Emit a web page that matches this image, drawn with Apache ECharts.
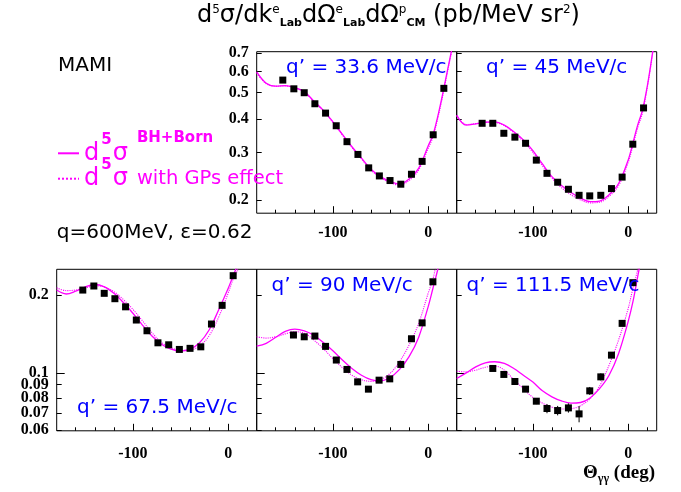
<!DOCTYPE html>
<html><head><meta charset="utf-8">
<script src="https://cdn.jsdelivr.net/npm/echarts@6/dist/echarts.min.js"></script>
<style>html,body{margin:0;padding:0;background:#fff}#c{width:681px;height:492px}</style>
</head><body><div id="c"></div>
<script>
// ---------- data ----------
const curveTheta = [-180,-170,-160,-150,-140,-130,-120,-110,-100,-90,-80,-70,-60,-50,-40,-30,-20,-10,0,5,10,15,20,25,30];

// q' = 33.6 MeV/c
const theta336 = [-152.6,-141,-130.1,-118.9,-107.7,-96.5,-85.2,-73.7,-62.4,-51.2,-40,-28.7,-17.5,-6.3,5.3,16.5];
const data336  = [0.557,0.517,0.500,0.455,0.420,0.377,0.329,0.295,0.263,0.2455,0.236,0.2287,0.249,0.278,0.349,0.519];
const bh336 = [0.597,0.542,0.529,0.531,0.522,0.505,0.465,0.43,0.39,0.35,0.315,0.286,0.26,0.244,0.234,0.229,0.239,0.262,0.317,0.348,0.407,0.49,0.598,0.73,0.9];
const gp336 = [0.59,0.54,0.528,0.53,0.521,0.503,0.463,0.428,0.388,0.348,0.313,0.284,0.258,0.242,0.232,0.227,0.236,0.258,0.31,0.342,0.40,0.48,0.59,0.72,0.9];

// q' = 45 MeV/c
const theta45 = [-153.3,-142.1,-130.5,-118.9,-107.7,-96.4,-85.2,-74,-62.7,-51.5,-40.3,-28.7,-17.5,-6.3,4.9,16.2];
const data45  = [0.385,0.385,0.3535,0.342,0.3245,0.281,0.251,0.2326,0.219,0.208,0.207,0.208,0.2203,0.243,0.322,0.439];
const bh45 = [0.413,0.379,0.383,0.389,0.39,0.379,0.358,0.334,0.305,0.272,0.244,0.226,0.213,0.203,0.197,0.198,0.209,0.23,0.281,0.325,0.379,0.43,0.526,0.68,0.9];
const gp45 = [0.41,0.381,0.384,0.388,0.388,0.377,0.355,0.33,0.3,0.268,0.241,0.222,0.209,0.2,0.195,0.196,0.206,0.226,0.275,0.318,0.37,0.42,0.52,0.67,0.9];

// q' = 67.5 MeV/c
const theta675 = [-152.6,-141,-130.1,-118.9,-107.7,-96.4,-85.2,-73.7,-62.4,-51.2,-40,-28.7,-17.5,-6.3,5.3];
const data675  = [0.209,0.2167,0.203,0.1935,0.180,0.160,0.1454,0.1306,0.1283,0.1231,0.1243,0.126,0.1544,0.1824,0.2376];
const bh675 = [0.209,0.2018,0.207,0.215,0.2196,0.215,0.203,0.187,0.170,0.153,0.1387,0.129,0.1234,0.1214,0.1234,0.1307,0.1464,0.175,0.212,0.236,0.262,0.3,0.35,0.4,0.45];
const gp675 = [0.2132,0.208,0.209,0.213,0.217,0.215,0.206,0.192,0.176,0.159,0.143,0.131,0.125,0.122,0.1225,0.127,0.139,0.164,0.203,0.229,0.25,0.29,0.34,0.4,0.45];

// q' = 90 MeV/c
const theta90 = [-141.4,-130.1,-118.9,-107.7,-96.4,-85.2,-74,-62.7,-51.5,-40.3,-28.7,-17.5,-6.3,5];
const data90  = [0.140,0.1378,0.1387,0.1265,0.112,0.103,0.0922,0.0864,0.0936,0.0947,0.1077,0.1354,0.156,0.225];
const bh90 = [0.1268,0.130,0.1372,0.1446,0.1476,0.1454,0.1397,0.131,0.1217,0.112,0.1039,0.0978,0.094,0.093,0.0958,0.103,0.1154,0.137,0.180,0.212,0.25,0.3,0.36,0.43,0.5];
const gp90 = [0.1378,0.1362,0.1378,0.1414,0.1441,0.1423,0.1338,0.124,0.1134,0.1046,0.0978,0.094,0.0926,0.094,0.0994,0.1104,0.128,0.155,0.203,0.23,0.28,0.33,0.4,0.47,0.55];

// q' = 111.5 MeV/c
const theta1115 = [-142.1,-130.5,-118.9,-107.7,-96.4,-85.2,-74,-62.7,-51.5,-40.3,-28.7,-17.5,-6.3,5];
const data1115  = [0.1039,0.0985,0.0925,0.0864,0.0776,0.0727,0.0714,0.0731,0.0693,0.0851,0.0964,0.117,0.1553,0.2232];
const err1115   = [0.002,0.002,0.002,0.002,0.002,0.003,0.003,0.003,0.005,0.003,0.003,0.003,0.003,0.003];
const bh1115 = [0.095,0.0999,0.1054,0.1093,0.1103,0.1087,0.1039,0.0978,0.092,0.0851,0.0807,0.0778,0.0763,0.0767,0.0799,0.0868,0.0978,0.1188,0.1577,0.188,0.235,0.29,0.35,0.42,0.5];
const gp1115 = [0.1014,0.1008,0.1024,0.105,0.1062,0.1024,0.094,0.0868,0.0802,0.0763,0.0736,0.0724,0.0726,0.0745,0.0794,0.0888,0.107,0.134,0.177,0.212,0.25,0.3,0.36,0.43,0.5];

// axis tick values
const xMinorTicks = [-160,-140,-120,-80,-60,-40,-20,20];
const xMajorTicks = [-100,0];
const yTicksTop = [0.2,0.3,0.4,0.5,0.6,0.7];
const yTicksBottom = [0.06,0.07,0.08,0.09,0.1,0.2];
const panelLabels = ["q’ = 33.6 MeV/c","q’ = 45 MeV/c","q’ = 67.5 MeV/c","q’ = 90 MeV/c","q’ = 111.5 MeV/c"];

// ---------- layout ----------
const SANS = "'DejaVu Sans', sans-serif";
const SERIF = "'Liberation Serif', 'DejaVu Serif', serif";
const MAG = '#ff00ff', BLUE = '#0000ff';
const W = 200, H = 161.5;
const panels = [
  {left:256.7, top:51.7, theta:theta336, data:data336, bh:bh336, gp:gp336, row:'top', ylab:true, lx:286, ly:68},
  {left:456.7, top:51.7, theta:theta45, data:data45, bh:bh45, gp:gp45, row:'top', ylab:false, lx:486, ly:68},
  {left:56.7, top:269.3, theta:theta675, data:data675, bh:bh675, gp:gp675, row:'bot', ylab:true, lx:77, ly:408},
  {left:256.7, top:269.3, theta:theta90, data:data90, bh:bh90, gp:gp90, row:'bot', ylab:false, lx:271.5, ly:286},
  {left:456.7, top:269.3, theta:theta1115, data:data1115, bh:bh1115, gp:gp1115, err:err1115, row:'bot', ylab:false, lx:466.5, ly:286}
];
const pairs = (xs, ys) => xs.map((x,k)=>[x, ys[k]]);
const labFmt = v => String(+(+v).toFixed(2));
const tickLabelStyle = {fontFamily: SERIF, fontWeight:'bold', fontSize:16, color:'#000'};

const grid = [], xAxis = [], yAxis = [], series = [];
panels.forEach((p,i)=>{
  const top = p.row==='top';
  grid.push({left:p.left, top:p.top, width:W, height:H, show:true, borderColor:'#000', borderWidth:1, backgroundColor:'transparent'});
  xAxis.push({type:'value', gridIndex:i, position:'bottom', min:-180, max:30, axisLine:{show:false, onZero:false}, splitLine:{show:false},
    axisTick:{show:true, inside:true, length:3.5, customValues:xMinorTicks, lineStyle:{color:'#000', width:1}},
    axisLabel:{show:false}});
  xAxis.push({type:'value', gridIndex:i, position:'bottom', min:-180, max:30, axisLine:{show:false, onZero:false}, splitLine:{show:false},
    axisTick:{show:true, inside:true, length:7, customValues:xMajorTicks, lineStyle:{color:'#000', width:1}},
    axisLabel:Object.assign({show:true, customValues:xMajorTicks, margin: top?12:15}, tickLabelStyle)});
  yAxis.push({type:'log', gridIndex:i, position:'left', min: top?0.1785:0.0596, max: top?0.71:0.2515,
    axisLine:{show:false, onZero:false}, splitLine:{show:false}, minorTick:{show:false},
    axisTick:{show:true, inside:true, length:5, customValues: top?yTicksTop:yTicksBottom, lineStyle:{color:'#000', width:1}},
    axisLabel:Object.assign({show:p.ylab, customValues: top?yTicksTop:yTicksBottom, margin:8, formatter:labFmt}, tickLabelStyle)});
});
// longer tick at 0.1 on bottom panels
[2,3,4].forEach(i=>{
  yAxis.push({type:'log', gridIndex:i, position:'left', min:0.0596, max:0.2515, axisLine:{show:false, onZero:false}, splitLine:{show:false},
    axisTick:{show:true, inside:true, length:8, customValues:[0.1], lineStyle:{color:'#000', width:1}},
    axisLabel:{show:false}});
});

panels.forEach((p,i)=>{
  series.push({name:'BH', type:'line', xAxisIndex:2*i+1, yAxisIndex:i, data:pairs(curveTheta,p.bh), smooth:0.35,
    symbol:'none', color:MAG, lineStyle:{color:MAG, width:1.3, type:'solid'}, z:2, clip:true});
  series.push({name:'GP', type:'line', xAxisIndex:2*i+1, yAxisIndex:i, data:pairs(curveTheta,p.gp), smooth:0.35,
    symbol:'none', color:MAG, lineStyle:{color:MAG, width:1.1, type:'dotted'}, z:2, clip:true});
  if (p.err) {
    series.push({type:'custom', xAxisIndex:2*i+1, yAxisIndex:i, z:3,
      data:p.theta.map((x,k)=>[x, p.data[k]-p.err[k], p.data[k]+p.err[k]]),
      encode:{x:0, y:[1,2]},
      renderItem:(params, api)=>{
        const a = api.coord([api.value(0), api.value(1)]);
        const b = api.coord([api.value(0), api.value(2)]);
        return {type:'line', shape:{x1:a[0], y1:a[1], x2:b[0], y2:b[1]}, style:{stroke:'#000', lineWidth:1}};
      }});
  }
  series.push({type:'scatter', xAxisIndex:2*i+1, yAxisIndex:i, data:pairs(p.theta,p.data), symbol:'rect', symbolSize:7,
    itemStyle:{color:'#000', opacity:1}, z:4});
});

const legendRich = {
  d:{fontFamily:SANS, fontSize:24, color:MAG, lineHeight:46},
  s:{fontFamily:SANS, fontSize:15, fontWeight:'bold', color:MAG, verticalAlign:'top', padding:[2,1,0,2]},
  t:{fontFamily:SANS, fontSize:15, fontWeight:'bold', color:MAG, verticalAlign:'top', padding:[0,0,0,9]},
  w:{fontFamily:SANS, fontSize:19.5, color:MAG, padding:[0,0,0,9]}
};
const legendFmt = n => n==='BH' ? '{d|d}{s|5}{d|σ}{t|BH+Born}' : '{d|d}{s|5}{d|σ}{w|with GPs effect}';
const legendBase = {left:57, padding:0, itemWidth:21, itemHeight:14, itemGap:0, formatter:legendFmt,
  itemStyle:{opacity:0}, textStyle:{rich:legendRich}};
const legend = [
  Object.assign({data:['BH'], top:130.3}, legendBase),
  Object.assign({data:['GP'], top:157.7}, legendBase)
];

const graphic = [
  {type:'text', x:197, y:16, silent:true, style:{
    text:'{a|d}{s|5}{a|σ/dk}{s|e}{b|Lab}{a|dΩ}{s|e}{b|Lab}{a|dΩ}{s|p}{b|CM}{a| (pb/MeV sr}{s|2}{a|)}',
    verticalAlign:'middle', align:'left',
    rich:{
      a:{fontFamily:SANS, fontSize:24, fill:'#000', lineHeight:30},
      s:{fontFamily:SANS, fontSize:12, fill:'#000', verticalAlign:'top', padding:[3,0,0,0]},
      b:{fontFamily:SANS, fontSize:11, fontWeight:'bold', fill:'#000', verticalAlign:'bottom', padding:[0,0,2,0]}
    }}},
  {type:'text', x:58, y:66, silent:true, style:{text:'MAMI', fontFamily:SANS, fontSize:20, fill:'#000', verticalAlign:'middle'}},
  {type:'text', x:56.7, y:233, silent:true, style:{text:'q=600MeV, ε=0.62', fontFamily:SANS, fontSize:20, fill:'#000', verticalAlign:'middle'}},
  {type:'text', x:655, y:473, silent:true, style:{
    text:'{a|Θ}{b|γγ}{a| (deg)}', align:'right', verticalAlign:'middle',
    rich:{a:{fontFamily:SERIF, fontWeight:'bold', fontSize:19, fill:'#000', lineHeight:24},
          b:{fontFamily:SERIF, fontWeight:'bold', fontSize:12, fill:'#000', verticalAlign:'bottom'}}}}
];
panels.forEach((p,i)=>{
  graphic.push({type:'text', x:p.lx, y:p.ly, silent:true, z:10,
    style:{text:panelLabels[i], fontFamily:SANS, fontSize:20, fill:BLUE, verticalAlign:'middle'}});
});

const chart = echarts.init(document.getElementById('c'), null, {renderer:'canvas'});
chart.setOption({animation:false, backgroundColor:'#fff', grid, xAxis, yAxis, series, legend, graphic});
</script></body></html>
